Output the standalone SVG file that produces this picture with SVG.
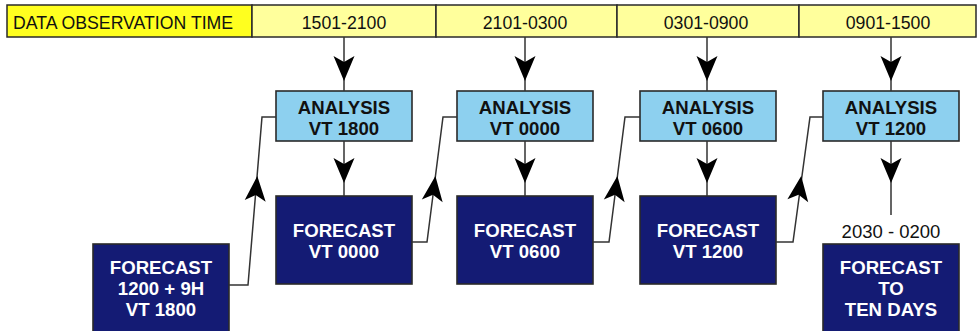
<svg xmlns="http://www.w3.org/2000/svg" width="977" height="331" viewBox="0 0 977 331">
  <style>
    .cell { stroke: #2a2a2a; stroke-width: 1.5; }
    .head { fill: #ffff1f; }
    .slot { fill: #ffff9c; }
    .bar-text { font-family: "Liberation Sans", Arial, sans-serif; font-size: 17.7px; fill: #111; }
    .analysis rect { fill: #8dd0ef; stroke: #2a2a2a; stroke-width: 1.6; }
    .forecast rect { fill: #141b74; stroke: #2a2a2a; stroke-width: 1.6; }
    .label { font-family: "Liberation Sans", Arial, sans-serif; font-size: 18.6px; font-weight: bold; text-anchor: middle; }
    .analysis text { fill: #111; }
    .forecast text { fill: #ffffff; }
    .wire { fill: none; stroke: #333; stroke-width: 1.5; }
    .time { font-family: "Liberation Sans", Arial, sans-serif; font-size: 18.5px; fill: #111; text-anchor: middle; }
  </style>
  <defs>
    <!-- notched arrowhead, tip at origin, pointing down -->
    <path id="ah" d="M0,0 L-10.5,-25 L0,-19 L10.5,-25 Z" fill="#000"/>
  </defs>

  <rect width="977" height="331" fill="#ffffff"/>

  <!-- observation time bar -->
  <g id="time-bar">
    <rect class="cell head" x="7" y="5" width="245" height="32"/>
    <rect class="cell slot" x="252" y="5" width="184" height="32"/>
    <rect class="cell slot" x="436" y="5" width="181" height="32"/>
    <rect class="cell slot" x="617" y="5" width="182" height="32"/>
    <rect class="cell slot" x="799" y="5" width="177" height="32"/>
    <text class="bar-text" x="13" y="28.5">DATA OBSERVATION TIME</text>
    <text class="bar-text" x="344" y="28.5" text-anchor="middle">1501-2100</text>
    <text class="bar-text" x="525" y="28.5" text-anchor="middle">2101-0300</text>
    <text class="bar-text" x="706" y="28.5" text-anchor="middle">0301-0900</text>
    <text class="bar-text" x="888" y="28.5" text-anchor="middle">0901-1500</text>
  </g>

  <!-- analysis nodes -->
  <g id="analysis-1800" class="analysis">
    <rect x="276" y="91" width="136" height="50"/>
    <text class="label" x="344" y="114.3">ANALYSIS</text>
    <text class="label" x="344" y="135.3">VT 1800</text>
  </g>
  <g id="analysis-0000" class="analysis">
    <rect x="457" y="91" width="136" height="50"/>
    <text class="label" x="525" y="114.3">ANALYSIS</text>
    <text class="label" x="525" y="135.3">VT 0000</text>
  </g>
  <g id="analysis-0600" class="analysis">
    <rect x="640" y="91" width="136" height="50"/>
    <text class="label" x="708" y="114.3">ANALYSIS</text>
    <text class="label" x="708" y="135.3">VT 0600</text>
  </g>
  <g id="analysis-1200" class="analysis">
    <rect x="823" y="91" width="136" height="50"/>
    <text class="label" x="891" y="114.3">ANALYSIS</text>
    <text class="label" x="891" y="135.3">VT 1200</text>
  </g>

  <!-- forecast nodes -->
  <g id="forecast-1800" class="forecast">
    <rect x="93" y="244" width="136" height="90"/>
    <text class="label" x="161" y="274.3">FORECAST</text>
    <text class="label" x="161" y="295.3">1200 + 9H</text>
    <text class="label" x="161" y="316.3">VT 1800</text>
  </g>
  <g id="forecast-0000" class="forecast">
    <rect x="276" y="196" width="136" height="88"/>
    <text class="label" x="344" y="237.3">FORECAST</text>
    <text class="label" x="344" y="258.3">VT 0000</text>
  </g>
  <g id="forecast-0600" class="forecast">
    <rect x="457" y="196" width="136" height="88"/>
    <text class="label" x="525" y="237.3">FORECAST</text>
    <text class="label" x="525" y="258.3">VT 0600</text>
  </g>
  <g id="forecast-1200" class="forecast">
    <rect x="640" y="196" width="136" height="88"/>
    <text class="label" x="708" y="237.3">FORECAST</text>
    <text class="label" x="708" y="258.3">VT 1200</text>
  </g>
  <g id="forecast-ten-days" class="forecast">
    <rect x="823" y="244" width="136" height="90"/>
    <text class="label" x="891" y="274.3">FORECAST</text>
    <text class="label" x="891" y="295.3">TO</text>
    <text class="label" x="891" y="316.3">TEN DAYS</text>
  </g>

  <!-- connectors -->
  <g id="connectors">
    <!-- observation window into each analysis -->
    <path class="wire" d="M344,37 V91 M525,37 V91 M707,37 V91 M891,37 V91"/>
    <use href="#ah" transform="translate(344,81)"/>
    <use href="#ah" transform="translate(525,81)"/>
    <use href="#ah" transform="translate(707,81)"/>
    <use href="#ah" transform="translate(891,81)"/>

    <!-- analysis into forecast -->
    <path class="wire" d="M344,141 V196 M525,141 V196 M707,141 V196 M891,141 V215"/>
    <use href="#ah" transform="translate(344,183)"/>
    <use href="#ah" transform="translate(525,183)"/>
    <use href="#ah" transform="translate(707,183)"/>
    <use href="#ah" transform="translate(891,183)"/>

    <!-- forecast used as first guess for the next analysis -->
    <path class="wire" d="M229,285 H248 L262,117 H276"/>
    <path class="wire" d="M412,242 H427 L443,117 H457"/>
    <path class="wire" d="M593,242 H609 L625,117 H640"/>
    <path class="wire" d="M776,242 H793 L810,117 H823"/>
    <use href="#ah" transform="translate(257.3,176) rotate(184.8)"/>
    <use href="#ah" transform="translate(435.4,176) rotate(187.3)"/>
    <use href="#ah" transform="translate(617.4,176) rotate(187.3)"/>
    <use href="#ah" transform="translate(801.2,176) rotate(187.8)"/>
  </g>

  <text class="time" x="891" y="238.3">2030 - 0200</text>
</svg>
